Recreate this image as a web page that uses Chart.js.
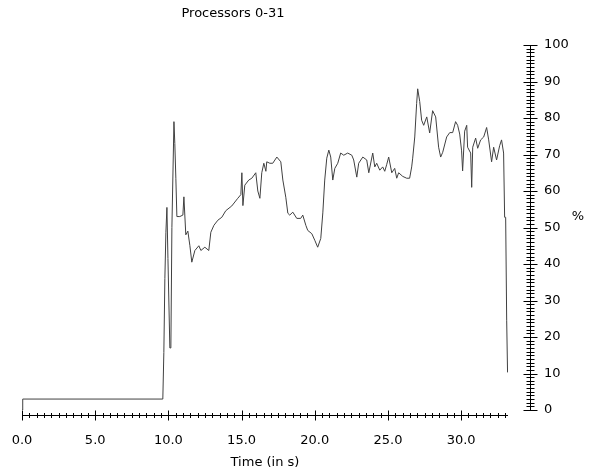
<!DOCTYPE html>
<html>
<head>
<meta charset="utf-8">
<script src="https://cdn.jsdelivr.net/npm/chart.js@4/dist/chart.umd.min.js"></script>
<style>
  html, body { margin: 0; padding: 0; background: #fff; }
  #wrap { width: 592px; height: 472px; position: relative; }
</style>
</head>
<body>
<div id="wrap"><canvas id="cpuChart"></canvas></div>
<script>
// time stamps (s) and processor usage (%)
const times = [0, 0.05, 9.62, 9.69, 9.76, 9.83, 9.90, 9.97, 10.10, 10.17, 10.24, 10.38, 10.44, 10.51, 10.58, 10.78, 10.99, 11.06, 11.19, 11.33,
  11.47, 11.60, 11.81, 12.08, 12.22, 12.49, 12.76, 12.90, 13.11, 13.38, 13.65, 13.92, 14.33, 14.74, 14.95, 15.02, 15.09, 15.22, 15.49, 15.70,
  15.97, 16.11, 16.25, 16.38, 16.52, 16.66, 16.72, 16.93, 17.13, 17.41, 17.68, 17.82, 18.02, 18.16, 18.29, 18.50, 18.77, 19.04, 19.18, 19.39,
  19.52, 19.80, 20.00, 20.20, 20.41, 20.55, 20.68, 20.82, 20.96, 21.09, 21.23, 21.37, 21.57, 21.77, 21.98, 22.25, 22.53, 22.66, 22.87, 23.00,
  23.28, 23.55, 23.69, 23.96, 24.10, 24.23, 24.44, 24.64, 24.78, 24.91, 25.05, 25.26, 25.46, 25.60, 25.73, 26.01, 26.28, 26.48, 26.62, 26.69,
  26.83, 26.96, 27.03, 27.17, 27.30, 27.44, 27.65, 27.85, 28.05, 28.26, 28.46, 28.60, 28.74, 29.01, 29.22, 29.42, 29.62, 29.76, 29.90, 30.03,
  30.10, 30.24, 30.38, 30.44, 30.65, 30.72, 30.79, 30.99, 31.13, 31.33, 31.54, 31.74, 31.88, 32.08, 32.22, 32.42, 32.63, 32.76, 32.90, 32.97,
  33.04, 33.11, 33.17];
const usage = [0, 3, 3, 15.8, 36, 48.7, 55.5, 41.5, 17, 17, 50, 79, 73, 63.5, 53, 53, 53.4, 58.4, 48, 49,
  45, 40.5, 43.7, 45, 43.7, 44.6, 43.7, 48.7, 50.6, 52, 52.8, 54.6, 55.9, 58, 59, 65, 56, 61.6, 63, 63.5,
  65, 60, 58, 65, 67.6, 65.4, 68, 67.6, 67.6, 69.3, 68, 63, 58.3, 53.9, 53.4, 54.2, 52.5, 52.5, 53.4, 50.6,
  49.2, 48.3, 46.5, 44.6, 47, 54, 63, 69, 71.2, 69.3, 63, 66.2, 67.6, 70.4, 69.8, 70.4, 69.8, 68.5, 63.8, 67.6,
  69.3, 68.5, 65, 70.4, 66.6, 67.6, 65.7, 66.6, 65.4, 67.2, 69.3, 65, 66.2, 63.5, 65, 64, 63.5, 63.5, 66.6, 69,
  74.8, 84, 88, 84.5, 79.4, 78, 80.3, 75.9, 82, 80.3, 72, 69.3, 70.6, 74.8, 76, 76, 79, 78, 75.6, 71,
  65.5, 76.4, 78, 72, 70.4, 61, 72, 74.5, 71.7, 74, 74.8, 77.4, 74, 68, 72, 68.5, 72.4, 74, 70.4, 52.8,
  52.8, 24.6, 10.3];

const titleText = 'Processors 0-31';
const xTitle = 'Time (in s)';
const yTitle = '%';
const xMax = 33.2;
const yMax = 100;

Chart.defaults.font.family = 'DejaVu Sans';
Chart.defaults.font.size = 13;
Chart.defaults.color = '#000';

// axes drawn detached from the plot, with ticks crossing the axis line
const axisFrame = {
  id: 'axisFrame',
  afterDraw(chart) {
    const { ctx, chartArea, scales: { x, y } } = chart;
    ctx.save();
    ctx.strokeStyle = '#000';
    ctx.lineWidth = 1;
    ctx.beginPath();
    // x axis
    const ay = Math.round(chartArea.bottom) + 5.5;
    ctx.moveTo(x.getPixelForValue(0), ay);
    ctx.lineTo(x.getPixelForValue(xMax), ay);
    for (let i = 0; i * 0.5 <= 33; i++) {
      const px = Math.round(x.getPixelForValue(i * 0.5)) + 0.5;
      const h = i % 10 === 0 ? 5 : 2.5;
      ctx.moveTo(px, ay - h);
      ctx.lineTo(px, ay + h);
    }
    // y axis
    const ax = Math.round(chartArea.right) + 22.5;
    ctx.moveTo(ax, y.getPixelForValue(0));
    ctx.lineTo(ax, y.getPixelForValue(yMax));
    for (let v = 0; v <= yMax; v++) {
      const py = Math.round(y.getPixelForValue(v)) + 0.5;
      const w = v % 10 === 0 ? 7 : 4;
      ctx.moveTo(ax - w, py);
      ctx.lineTo(ax + w, py);
    }
    ctx.stroke();

    ctx.fillStyle = '#000';
    ctx.font = '13px "DejaVu Sans"';
    ctx.textAlign = 'center';
    ctx.textBaseline = 'middle';
    ctx.fillText(titleText, 233, 14);
    ctx.fillText(yTitle, 578, 217);
    ctx.restore();
  }
};

new Chart(document.getElementById('cpuChart'), {
  type: 'line',
  data: {
    datasets: [{
      data: times.map((t, i) => ({ x: t, y: usage[i] })),
      borderColor: '#404040',
      borderWidth: 1,
      pointRadius: 0,
      tension: 0,
      fill: false
    }]
  },
  options: {
    responsive: true,
    maintainAspectRatio: false,
    animation: false,
    layout: { padding: { left: 22, top: 45, right: 0, bottom: 0 } },
    plugins: {
      legend: { display: false },
      title: { display: false },
      tooltip: { enabled: false }
    },
    scales: {
      x: {
        type: 'linear',
        min: 0,
        max: xMax,
        grid: { display: false, drawTicks: false },
        border: { display: false },
        ticks: {
          stepSize: 5,
          includeBounds: false,
          autoSkip: false,
          maxRotation: 0,
          padding: 23,
          callback: v => v.toFixed(1)
        },
        title: { display: true, text: xTitle, padding: { top: 0, bottom: 2 } },
        afterFit: s => { s.height = 62; s.paddingLeft = 0; s.paddingRight = 0; }
      },
      y: {
        position: 'right',
        min: 0,
        max: yMax,
        grid: { display: false, drawTicks: false },
        border: { display: false },
        ticks: { stepSize: 10, padding: 36 },
        afterFit: s => { s.width = 84; s.paddingTop = 0; s.paddingBottom = 0; }
      }
    }
  },
  plugins: [axisFrame]
});
</script>
</body>
</html>
